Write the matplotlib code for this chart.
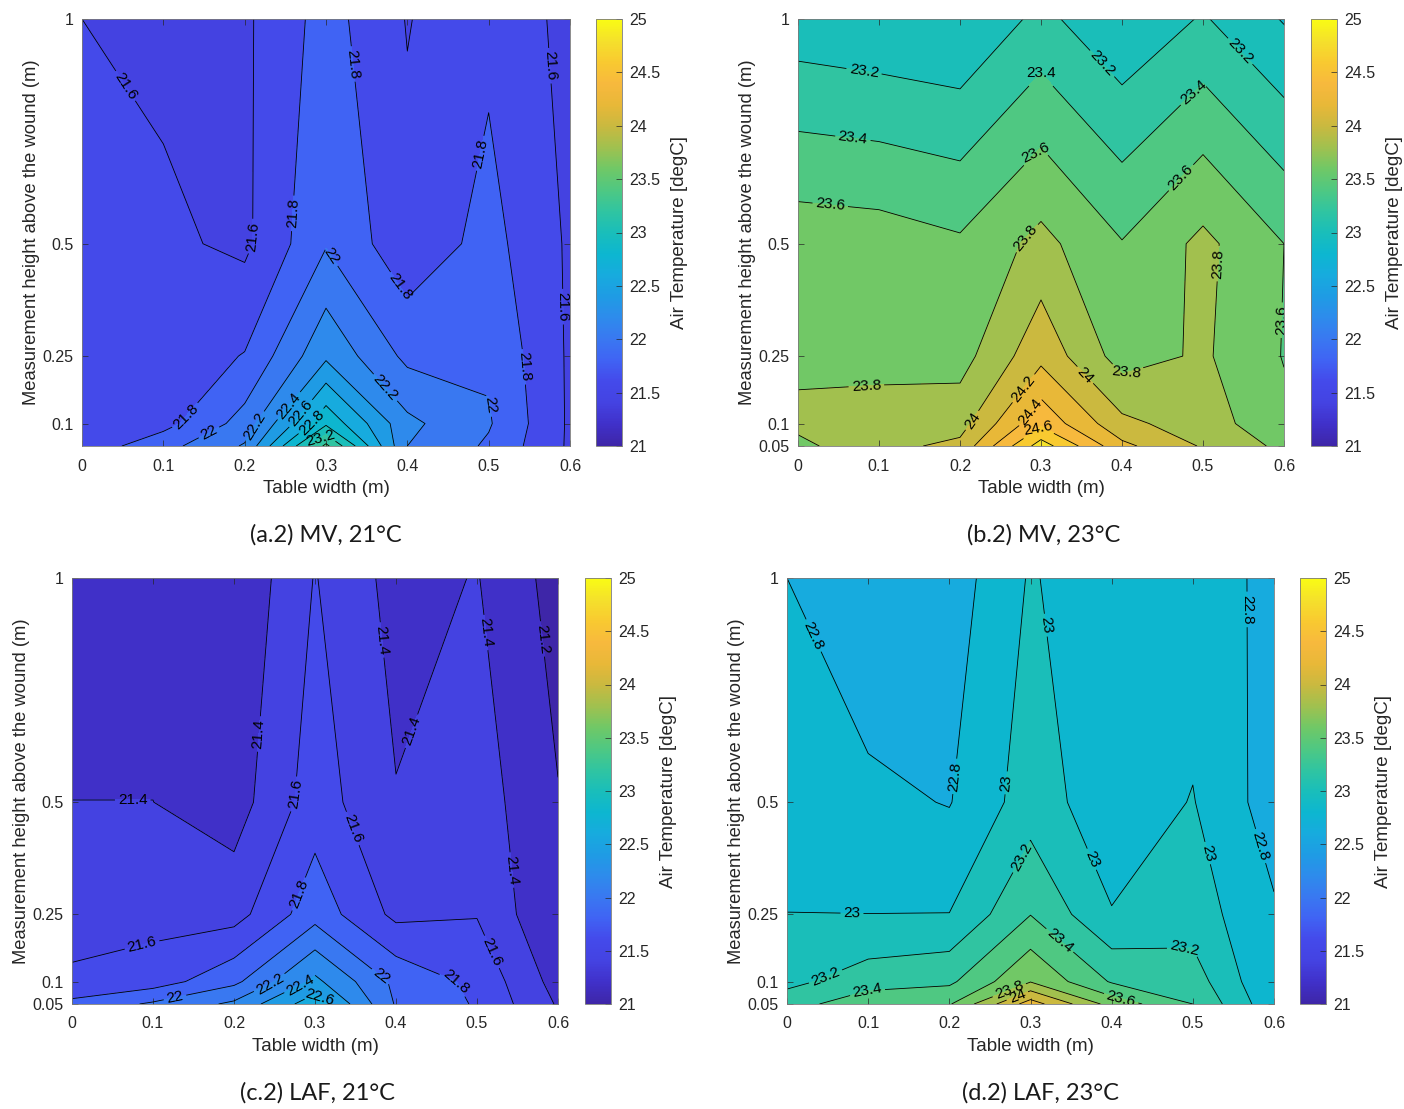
import numpy as np
import matplotlib
matplotlib.use("Agg")
import matplotlib.pyplot as plt
from matplotlib.colors import LinearSegmentedColormap, Normalize
from matplotlib.cm import ScalarMappable
from matplotlib.ticker import FuncFormatter

# measurement grid
WIDTH_M = [0.0, 0.1, 0.2, 0.3, 0.4, 0.5, 0.6]
HEIGHT_M = [0.05, 0.1, 0.25, 0.5, 1.0]

# air temperature (degC), one row per height (bottom to top)
MV_21 = [
    [21.675, 21.93, 22.22, 23.45, 22.20, 21.97, 21.57],
    [21.68, 21.73, 22.08, 22.96, 22.25, 22.02, 21.57],
    [21.68, 21.68, 21.81, 22.36, 21.95, 21.97, 21.57],
    [21.70, 21.64, 21.558, 21.985, 21.66, 21.87, 21.57],
    [21.60, 21.55, 21.565, 21.88, 21.59, 21.75, 21.54],
]
MV_23 = [
    [23.75, 23.94, 24.05, 24.90, 24.25, 23.98, 23.75],
    [23.85, 23.88, 23.92, 24.55, 24.05, 23.90, 23.65],
    [23.75, 23.74, 23.72, 24.14, 23.71, 23.83, 23.59],
    [23.72, 23.70, 23.63, 23.86, 23.61, 23.85, 23.60],
    [23.08, 23.04, 23.006, 23.255, 23.03, 23.22, 22.985],
]
LAF_21 = [
    [21.85, 22.03, 22.24, 22.72, 21.98, 21.78, 21.38],
    [21.64, 21.70, 21.95, 22.45, 21.95, 21.75, 21.32],
    [21.50, 21.53, 21.52, 21.92, 21.55, 21.59, 21.20],
    [21.401, 21.401, 21.305, 21.70, 21.41, 21.50, 21.21],
    [21.30, 21.30, 21.22, 21.61, 21.33, 21.41, 21.12],
]
LAF_23 = [
    [23.30, 23.55, 23.58, 24.30, 23.72, 23.40, 22.85],
    [23.15, 23.30, 23.36, 23.79, 23.38, 23.30, 22.80],
    [23.002, 23.001, 23.003, 23.395, 23.01, 23.10, 22.825],
    [22.90, 22.85, 22.79, 23.10, 22.88, 23.01, 22.70],
    [22.80, 22.62, 22.69, 23.02, 22.85, 22.88, 22.76],
]

CAPTIONS = ["(a.2) MV, 21°C", "(b.2) MV, 23°C", "(c.2) LAF, 21°C", "(d.2) LAF, 23°C"]
PANEL_DATA = [MV_21, MV_23, LAF_21, LAF_23]

Y_TICKS = [0.05, 0.1, 0.25, 0.5, 1.0]
X_TICKS = [0.0, 0.1, 0.2, 0.3, 0.4, 0.5, 0.6]
CBAR_TICKS = [21, 21.5, 22, 22.5, 23, 23.5, 24, 24.5, 25]

# where matlab happened to put the inline contour labels (layout only)
LABEL_SPOTS = [
    [(0.044, 0.84), (0.204, 0.516), (0.256, 0.568), (0.333, 0.90), (0.567, 0.895),
     (0.493, 0.70), (0.305, 0.47), (0.388, 0.40), (0.594, 0.36), (0.542, 0.226),
     (0.383, 0.196), (0.50, 0.14), (0.124, 0.122), (0.157, 0.077), (0.206, 0.10),
     (0.256, 0.137), (0.272, 0.118), (0.285, 0.10), (0.292, 0.072)],
    [(0.082, 0.89), (0.30, 0.895), (0.375, 0.90), (0.547, 0.93), (0.489, 0.835),
     (0.068, 0.738), (0.29, 0.71), (0.467, 0.657), (0.04, 0.59), (0.267, 0.538),
     (0.517, 0.456), (0.595, 0.33), (0.084, 0.196), (0.35, 0.20), (0.406, 0.207),
     (0.27, 0.19), (0.284, 0.13), (0.298, 0.085), (0.209, 0.114)],
    [(0.373, 0.86), (0.509, 0.878), (0.575, 0.863), (0.232, 0.652), (0.429, 0.652),
     (0.274, 0.518), (0.075, 0.496), (0.34, 0.437), (0.539, 0.348), (0.279, 0.296),
     (0.086, 0.185), (0.384, 0.118), (0.473, 0.096), (0.523, 0.17), (0.127, 0.066),
     (0.246, 0.089), (0.285, 0.081), (0.307, 0.066)],
    [(0.033, 0.872), (0.315, 0.894), (0.567, 0.93), (0.205, 0.558), (0.271, 0.543),
     (0.288, 0.379), (0.373, 0.371), (0.517, 0.386), (0.581, 0.401), (0.08, 0.248),
     (0.34, 0.20), (0.49, 0.184), (0.053, 0.087), (0.10, 0.072), (0.274, 0.08),
     (0.285, 0.062), (0.412, 0.065)],
]

PARULA = LinearSegmentedColormap.from_list("parula_ish", [
    (0.00, (0.243, 0.150, 0.660)),
    (0.05, (0.250, 0.190, 0.790)),
    (0.10, (0.267, 0.262, 0.885)),
    (0.15, (0.268, 0.290, 0.920)),
    (0.20, (0.250, 0.390, 0.955)),
    (0.25, (0.225, 0.470, 0.945)),
    (0.30, (0.180, 0.545, 0.925)),
    (0.35, (0.120, 0.610, 0.895)),
    (0.40, (0.090, 0.670, 0.870)),
    (0.45, (0.050, 0.715, 0.815)),
    (0.50, (0.100, 0.745, 0.730)),
    (0.55, (0.190, 0.770, 0.630)),
    (0.60, (0.310, 0.785, 0.510)),
    (0.65, (0.440, 0.785, 0.400)),
    (0.70, (0.630, 0.755, 0.310)),
    (0.75, (0.790, 0.725, 0.250)),
    (0.80, (0.910, 0.720, 0.220)),
    (0.85, (0.970, 0.725, 0.240)),
    (0.90, (0.975, 0.790, 0.190)),
    (0.95, (0.960, 0.880, 0.170)),
    (1.00, (0.976, 0.984, 0.081)),
])
NORM = Normalize(vmin=21, vmax=25)
LEVELS = np.round(np.arange(20.0, 25.61, 0.2), 1)
# matlab fills each band with the colour of its lower level
BAND_COLORS = [PARULA(NORM(lv)) for lv in LEVELS[:-1]]

W, H = 1404, 1109
# pixel boxes (left, top, right, bottom)
AX_BOXES = [(82, 19, 570, 446), (798, 19, 1284, 446), (72, 578, 558, 1004), (787, 578, 1274, 1004)]
CB_BOXES = [(596, 19, 622, 446), (1311, 19, 1337, 446), (585, 578, 611, 1004), (1300, 578, 1326, 1004)]
CAPTION_XY = [(326, 535), (1044, 535), (318, 1093), (1040, 1093)]

AXIS_GREY = "#262626"
plt.rcParams["font.family"] = ["Liberation Sans", "DejaVu Sans"]

num_fmt = FuncFormatter(lambda v, pos: f"{v:g}")


def px_rect(box):
    l, t, r, b = box
    return [l / W, 1 - b / H, (r - l) / W, (b - t) / H]


def draw_panel(fig, i):
    ax = fig.add_axes(px_rect(AX_BOXES[i]))
    X, Y = np.meshgrid(WIDTH_M, HEIGHT_M)
    Z = np.array(PANEL_DATA[i])
    ax.contourf(X, Y, Z, levels=LEVELS, colors=BAND_COLORS)
    cs = ax.contour(X, Y, Z, levels=LEVELS, colors="k", linewidths=0.6)
    ax.set_xlim(0, 0.6)
    ax.set_ylim(0.05, 1.0)
    ax.clabel(cs, fmt=lambda v: f"{v:g}", fontsize=11, inline=True,
              inline_spacing=3, manual=LABEL_SPOTS[i])

    ax.set_xticks(X_TICKS)
    ax.xaxis.set_major_formatter(num_fmt)
    yt = Y_TICKS if i != 0 else Y_TICKS[1:]
    ax.set_yticks(yt)
    ax.yaxis.set_major_formatter(num_fmt)
    ax.tick_params(direction="in", length=4, width=0.5, top=True, right=True,
                   labelsize=11.5, colors=AXIS_GREY, labelcolor=AXIS_GREY, pad=6)
    ax.tick_params(axis="x", pad=9)
    for s in ax.spines.values():
        s.set_linewidth(0.6)
        s.set_color("#7a7a7a")
    ax.set_xlabel("Table width (m)", fontsize=13.5, color=AXIS_GREY, labelpad=5)
    ax.set_ylabel("Measurement height above the wound (m)", fontsize=13.2,
                  color=AXIS_GREY, labelpad=2)

    cax = fig.add_axes(px_rect(CB_BOXES[i]))
    cb = fig.colorbar(ScalarMappable(norm=NORM, cmap=PARULA), cax=cax, ticks=CBAR_TICKS)
    cb.ax.yaxis.set_major_formatter(num_fmt)
    cb.ax.tick_params(direction="in", length=4, width=0.5, labelsize=11.5,
                      colors=AXIS_GREY, labelcolor=AXIS_GREY, pad=5)
    cb.outline.set_linewidth(0.6)
    cb.outline.set_edgecolor("#7a7a7a")
    cb.set_label("Air Temperature [degC]", fontsize=13.5, color=AXIS_GREY, labelpad=8)

    cx, cy = CAPTION_XY[i]
    fig.text(cx / W, 1 - cy / H, CAPTIONS[i], ha="center", va="center",
             fontsize=17, family=["Lato", "DejaVu Sans"], color="#1a1a1a")


def main():
    fig = plt.figure(figsize=(W / 100, H / 100), dpi=100)
    for i in range(4):
        draw_panel(fig, i)
    fig.savefig("out.png", dpi=100)
    plt.close(fig)


if __name__ == "__main__":
    main()
